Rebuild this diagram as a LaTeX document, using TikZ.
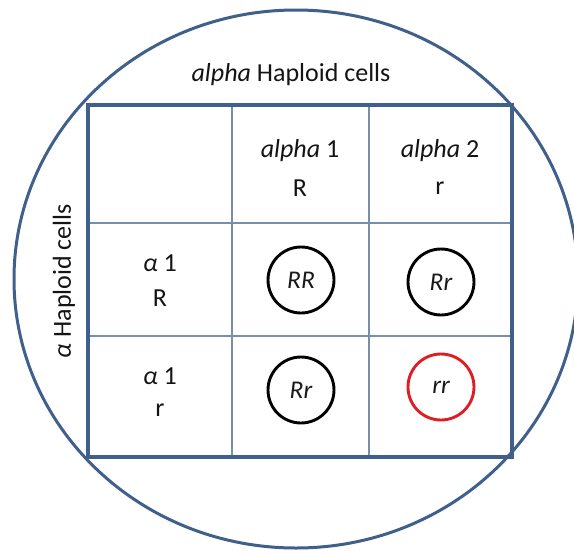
\documentclass[tikz,border=0pt]{standalone}
\usepackage{fontspec}
\setmainfont{Carlito}
\definecolor{frameblue}{RGB}{64,96,140}
\definecolor{gridblue}{RGB}{120,143,172}
\definecolor{cellred}{RGB}{222,30,36}
\tikzset{
  lbl/.style={inner sep=0pt, font=\fontsize{26}{30}\selectfont, text=black!92},
  geno/.style={circle, draw=black, line width=2.9pt, minimum size=66pt, inner sep=0pt, font=\fontsize{25.5}{29}\selectfont\itshape, text=black!90},
  thin/.style={draw=gridblue, line width=1.3pt},
  thick/.style={draw=frameblue, line width=3.6pt},
}
\begin{document}
\begin{tikzpicture}[x=1pt,y=-1pt]
\useasboundingbox (0,0) rectangle (574,550);
\clip (0,0) rectangle (574,550);
% outer ellipse
\draw[frameblue, line width=3pt] (296,279) ellipse [x radius=282pt, y radius=269pt];
% grid coordinates
\coordinate (tl) at (88,105);
\coordinate (br) at (512,457);
\coordinate (v1t) at (232,105);
\coordinate (v1b) at (232,457);
\coordinate (v2t) at (369,105);
\coordinate (v2b) at (369,457);
\coordinate (h1l) at (88,223);
\coordinate (h1r) at (512,223);
\coordinate (h2l) at (88,336);
\coordinate (h2r) at (512,336);
\draw[thin] (v1t) -- (v1b);
\draw[thin] (v2t) -- (v2b);
\draw[thin] (h1l) -- (h1r);
\draw[thin] (h2l) -- (h2r);
\draw[thick] (tl) rectangle (br);
% titles
\node[lbl] (top) at (291,75) {\textit{alpha} Haploid cells};
\node[lbl, rotate=90] (side) at (64,281) {\textit{α} Haploid cells};
% column headers
\node[lbl] (c1a) at (300,151) {\textit{alpha} 1};
\node[lbl] (c1b) at (300,188) {R};
\node[lbl] (c2a) at (440,151) {\textit{alpha} 2};
\node[lbl] (c2b) at (440,188) {r};
% row headers
\node[lbl] (r1a) at (160,263) {\textit{α} 1};
\node[lbl] (r1b) at (160,298) {R};
\node[lbl] (r2a) at (160,376) {\textit{α} 1};
\node[lbl] (r2b) at (160,410) {r};
% genotypes
\node[geno] (g11) at (301,280) {RR};
\node[geno] (g12) at (441,282) {Rr};
\node[geno] (g21) at (301,390) {Rr};
\node[geno, draw=cellred] (g22) at (441,387) {rr};
\end{tikzpicture}
\end{document}
